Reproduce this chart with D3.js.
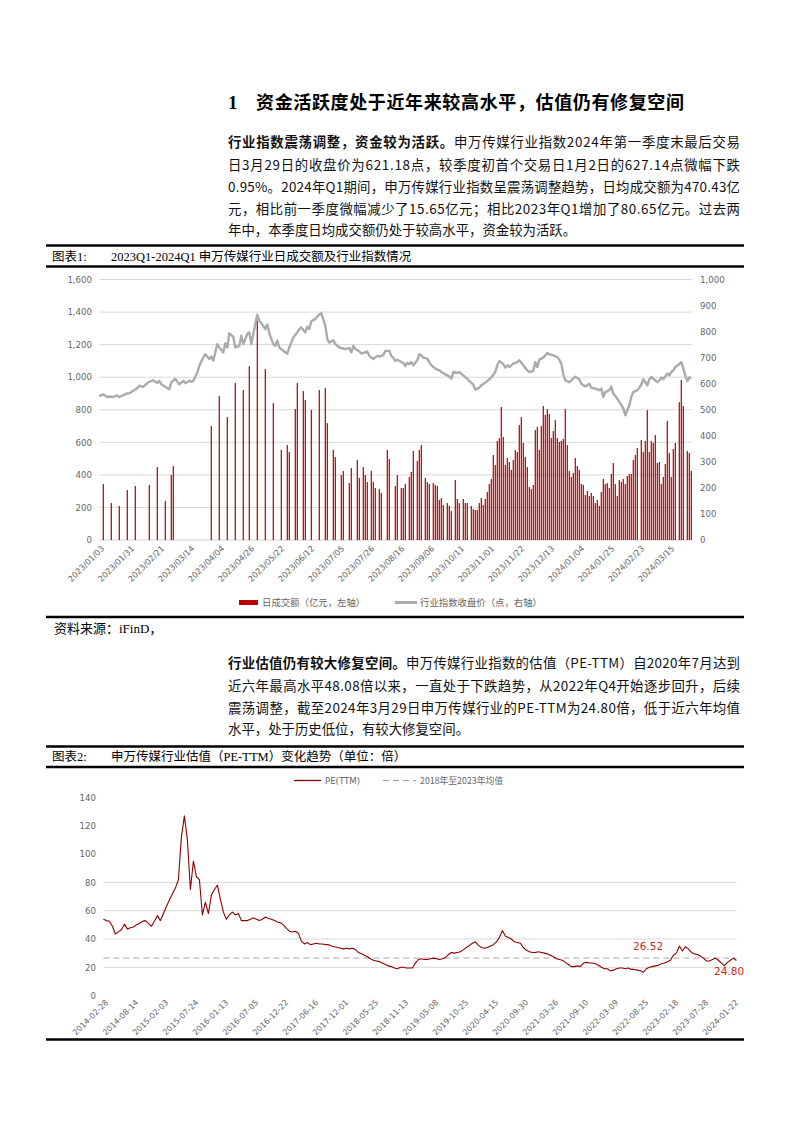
<!DOCTYPE html>
<html><head><meta charset="utf-8">
<script src="https://cdn.jsdelivr.net/npm/d3@7"></script>
<style>body{margin:0;background:#fff}svg{display:block}</style>
</head><body>
<svg id="page" width="794" height="1122"></svg>
<script>
// ---------------- DATA ----------------
// Chart 1: trading-day index (0 = 2023/01/03) and daily turnover (亿元, left axis)
const volDays = [2,6,10,14,18,25,29,33,36,37,56,60,64,68,72,75,79,83,87,91,94,95,98,99,102,103,106,110,113,114,117,118,121,122,125,126,129,130,132,133,134,136,137,138,140,141,144,145,148,149,151,152,153,155,156,157,159,160,161,163,164,165,167,168,169,170,171,172,174,175,176,178,179,180,182,183,184,186,187,188,189,190,191,192,193,194,195,196,197,198,199,200,201,202,203,204,205,206,207,208,209,210,211,212,213,214,215,216,217,218,219,220,221,222,223,224,225,226,227,228,229,230,231,232,233,234,235,236,237,238,239,240,241,242,243,244,245,246,247,248,249,250,251,252,253,254,255,256,257,258,259,260,261,262,263,264,265,266,267,268,269,271,272,273,274,275,276,277,278,279,280,281,282,283,284,285,286,287,288,290,291,292,294,295,296];
const volValues = [344,227,209,307,332,338,448,240,399,454,700,884,755,964,921,1068,1347,1050,841,553,583,540,804,964,915,860,798,921,933,718,553,510,399,424,350,442,491,381,448,399,356,424,356,319,313,289,553,497,332,399,319,319,344,387,418,547,485,553,583,381,356,344,350,338,332,246,258,215,227,209,178,368,252,227,252,227,227,209,190,184,184,227,258,215,252,295,344,375,522,461,608,626,817,633,461,504,479,430,491,553,540,706,755,596,510,448,325,313,338,675,694,553,700,823,768,804,774,626,669,737,626,602,608,620,804,583,424,387,411,504,454,430,344,338,276,301,270,289,270,227,246,209,295,375,344,350,319,405,473,344,270,368,356,375,344,393,405,405,491,522,565,614,540,608,798,540,608,596,645,473,479,344,387,467,731,534,387,559,596,847,983,823,547,534,424];
// Chart 1: industry index close (点, right axis)
const idxDays = [0,2,4,5,7,9,10,12,14,15,17,19,20,22,24,25,27,29,30,31,33,35,36,38,39,40,42,43,45,46,47,49,50,52,53,55,56,57,59,60,62,63,64,65,67,68,70,71,72,74,75,76,78,79,80,81,83,84,85,87,88,89,90,92,94,95,97,99,100,101,103,104,105,106,108,109,110,111,113,114,115,117,118,120,121,123,125,126,127,128,130,131,133,134,135,137,139,140,142,143,145,146,147,148,149,151,152,153,154,155,156,157,159,160,161,162,164,165,166,168,170,171,173,175,176,177,179,180,182,184,185,187,188,190,191,193,195,196,198,199,200,202,203,204,205,207,209,210,212,214,215,217,218,219,220,222,223,224,225,227,229,230,231,232,233,235,236,238,240,241,243,245,246,248,250,251,252,253,255,256,257,259,260,262,263,264,265,266,267,269,270,271,272,274,275,276,277,279,280,281,282,284,285,286,287,288,290,291,292,293,294,295,296];
const idxValues = [552,559,549,551,549,555,549,556,563,563,573,583,592,588,602,608,613,603,611,598,588,578,605,619,608,598,611,602,611,607,611,643,669,701,713,695,704,688,752,739,720,755,739,793,780,739,745,784,752,791,797,752,829,865,842,832,810,827,793,752,745,765,739,726,716,739,777,797,810,816,797,819,810,840,848,858,865,871,823,771,758,767,752,739,737,733,737,720,745,733,724,716,720,724,707,695,707,704,710,726,726,706,700,687,692,683,680,667,680,675,683,671,690,713,709,700,696,683,671,658,651,645,636,628,619,645,641,645,632,619,610,597,577,585,594,604,617,624,645,671,687,675,662,671,664,677,683,690,671,651,645,649,683,664,692,700,709,718,713,709,702,692,677,636,613,606,613,627,617,600,589,600,585,581,575,581,549,568,575,589,562,543,530,505,479,498,517,549,568,575,585,597,617,594,617,626,619,606,613,624,617,639,632,645,651,664,675,683,658,632,610,624,621];
const chart1Days = 297;
const chart1TickDays = [0,15,30,45,60,75,90,105,120,135,150,165,180,195,210,225,240,255,270,285];
const chart1TickLabels = ["2023/01/03","2023/01/31","2023/02/21","2023/03/14","2023/04/04","2023/04/26","2023/05/22","2023/06/12","2023/07/05","2023/07/26","2023/08/16","2023/09/06","2023/10/11","2023/11/01","2023/11/22","2023/12/13","2024/01/04","2024/01/25","2024/02/23","2024/03/15"];
const leftTicks = [0,200,400,600,800,1000,1200,1400,1600];
const rightTicks = [0,100,200,300,400,500,600,700,800,900,1000];
const chart1Legend = ["日成交额（亿元，左轴）","行业指数收盘价（点，右轴）"];

// Chart 2: PE(TTM), sampled at equal steps from 2014-02-28 to 2024-03-29
const peValues = [54,53,52.5,49,43.5,45,46.5,50.5,47,48,48.5,50,51,52.5,53,51,49,52.5,56.5,53,58,63,67.5,72,76,82,112,127,110,75,95,84,82,57,66,58,71,75,78,68,59,54,57,59,57,58,53,53,53,54,55,54,53,54,55.5,54.5,54,53,52,51.5,50,47.5,45.5,45,45.5,44,38.5,36.5,37.5,36,36.5,37,36.5,36.5,36,36,35,34.5,34,33.5,33,33.5,33,33.5,32.5,30.5,29.5,28.5,27.5,26,25,24.5,24,23,22,21,20.5,19.5,19,20,20,19.5,19.5,19.5,23,25.5,26,25.5,25.5,26,26.5,26,25.5,26,27,29,30.5,30,30.5,31,32.5,34,35.5,37,38,35.5,34,33.5,34,35,36,38,41,46,42,41,40,38,37.5,37,34,32,31,30.5,30.5,31,30.5,30,29.5,28.5,27.5,26,25.5,25,23.5,22,20.5,20.5,21,20.5,23,23.5,23,23,22.5,21.5,20,19,19,17.5,18,19,19.5,19.5,19,19.5,18.5,18.5,18,17.5,16.5,19,20,20.5,21,21.5,22.5,23,24,25,28.5,30,35,31.5,34.5,33,30.5,29.5,29,28,26.5,24.5,24.5,25.5,26.5,25,23,21,23.5,25,26.5,24.8];
const peTickSamples = [0,10,20,30,40,50,60,70,80,90,100,110,120,130,140,150,160,170,180,190,200,210];
const peTickLabels = ["2014-02-28","2014-08-14","2015-02-03","2015-07-24","2016-01-13","2016-07-05","2016-12-22","2017-06-16","2017-12-01","2018-05-25","2018-11-13","2019-05-08","2019-10-25","2020-04-15","2020-09-30","2021-03-26","2021-09-10","2022-03-09","2022-08-25","2023-02-18","2023-07-28","2024-01-22"];
const peYTicks = [0,20,40,60,80,100,120,140];
const peGridTicks = [20,40,60,80];
const peMean = 26.52;
const peLast = 24.80;
const chart2Legend = ["PE(TTM)","2018年至2023年均值"];

// ---------------- DRAW ----------------
const svg = d3.select("#page");
svg.append("rect").attr("width",794).attr("height",1122).attr("fill","#fff");
const CJK = "'Noto Sans CJK SC','Noto Sans',sans-serif";
const SERIF = "'Liberation Serif','Noto Sans CJK SC',serif";
const AXF = "'DejaVu Sans','Noto Sans CJK SC',sans-serif";

// Title
svg.append("text").attr("x",228).attr("y",109).attr("font-family",SERIF).attr("font-weight",700)
  .attr("font-size",19).text("1");
svg.append("text").attr("x",256).attr("y",109).attr("font-family",CJK).attr("font-weight",700)
  .attr("font-size",18).attr("textLength",428).attr("lengthAdjust","spacing")
  .text("资金活跃度处于近年来较高水平，估值仍有修复空间");

function para(lines, x, ys, width) {
  lines.forEach((segs, k) => {
    const t = svg.append("text").attr("x", x).attr("y", ys[k])
      .attr("font-family", CJK).attr("font-size", 13.4).attr("fill", "#111");
    segs.forEach(s => t.append("tspan").attr("font-weight", s.b ? 700 : 400).text(s.t));
    if (k < lines.length - 1) t.attr("textLength", width).attr("lengthAdjust", "spacing");
  });
}
para([
  [{t:"行业指数震荡调整，资金较为活跃。",b:1},{t:"申万传媒行业指数2024年第一季度末最后交易"}],
  [{t:"日3月29日的收盘价为621.18点，较季度初首个交易日1月2日的627.14点微幅下跌"}],
  [{t:"0.95%。2024年Q1期间，申万传媒行业指数呈震荡调整趋势，日均成交额为470.43亿"}],
  [{t:"元，相比前一季度微幅减少了15.65亿元；相比2023年Q1增加了80.65亿元。过去两"}],
  [{t:"年中，本季度日均成交额仍处于较高水平，资金较为活跃。"}]
], 228, [147,170,192,214,235], 512);

para([
  [{t:"行业估值仍有较大修复空间。",b:1},{t:"申万传媒行业指数的估值（PE-TTM）自2020年7月达到"}],
  [{t:"近六年最高水平48.08倍以来，一直处于下跌趋势，从2022年Q4开始逐步回升，后续"}],
  [{t:"震荡调整，截至2024年3月29日申万传媒行业的PE-TTM为24.80倍，低于近六年均值"}],
  [{t:"水平，处于历史低位，有较大修复空间。"}]
], 228, [668,691,713,734], 512);

function rule(y){ svg.append("line").attr("x1",46).attr("x2",744).attr("y1",y).attr("y2",y)
  .attr("stroke","#000").attr("stroke-width",2.4); }

// Chart 1 header
rule(245.5); rule(266.5);
svg.append("text").attr("x",52).attr("y",261).attr("font-family",SERIF).attr("font-size",12.5).text("图表1:");
svg.append("text").attr("x",111).attr("y",261).attr("font-family",SERIF).attr("font-size",12.5)
  .text("2023Q1-2024Q1 申万传媒行业日成交额及行业指数情况");

// Chart 1 scales
const x1 = d3.scaleLinear().domain([0, chart1Days - 1]).range([99.3, 691.3]);
const yL = d3.scaleLinear().domain([0, 1600]).range([540, 279.5]);
const yR = d3.scaleLinear().domain([0, 1000]).range([540, 279.5]);

const g1 = svg.append("g");
g1.selectAll("line.grid").data(leftTicks.filter(d=>d>0)).join("line")
  .attr("x1",99.3).attr("x2",692).attr("y1",d=>yL(d)).attr("y2",d=>yL(d))
  .attr("stroke","#d9d9d9").attr("stroke-width",1);
g1.append("line").attr("x1",99.3).attr("x2",692).attr("y1",yL(0)).attr("y2",yL(0))
  .attr("stroke","#d0d0d0").attr("stroke-width",1);

const axL = g1.append("g").attr("transform","translate(92,0)")
  .call(d3.axisLeft(yL).tickValues(leftTicks).tickFormat(d3.format(",")).tickSize(0).tickPadding(0));
axL.select(".domain").remove();
axL.selectAll("text").attr("font-family",AXF).attr("font-size",8.6).attr("fill","#666");

const axR = g1.append("g").attr("transform","translate(700,0)")
  .call(d3.axisRight(yR).tickValues(rightTicks).tickFormat(d3.format(",")).tickSize(0).tickPadding(0));
axR.select(".domain").remove();
axR.selectAll("text").attr("font-family",AXF).attr("font-size",8.6).attr("fill","#666");

// bars
const volData = volDays.map((d,i)=>({d, v: volValues[i]}));
g1.selectAll("rect.bar").data(volData).join("rect").attr("class","bar")
  .attr("x",d=>x1(d.d)-0.6).attr("width",1.2)
  .attr("y",d=>yL(d.v)).attr("height",d=>yL(0)-yL(d.v)).attr("fill","#b00000");

// index line
const idxData = idxDays.map((d,i)=>({d, v: idxValues[i]}));
g1.append("path").datum(idxData).attr("fill","none").attr("stroke","#ababab")
  .attr("stroke-width",2.4).attr("stroke-linejoin","round")
  .attr("d", d3.line().x(d=>x1(d.d)).y(d=>yR(d.v)));

// x labels
const xl1 = g1.append("g").attr("transform","translate(0,547)")
  .call(d3.axisBottom(x1).tickValues(chart1TickDays).tickFormat((d,i)=>chart1TickLabels[i]).tickSize(0).tickPadding(0));
xl1.select(".domain").remove();
xl1.selectAll("text").attr("font-family",AXF).attr("font-size",8.2).attr("fill","#666")
  .attr("text-anchor","end").attr("dy","0.35em")
  .attr("transform","translate(3,0) rotate(-45)");

// legend 1
g1.append("rect").attr("x",239).attr("y",600).attr("width",19).attr("height",5).attr("fill","#c00000");
g1.append("text").attr("x",262).attr("y",606).attr("font-family",CJK).attr("font-size",9.4)
  .attr("fill","#666").text(chart1Legend[0]);
g1.append("line").attr("x1",395).attr("x2",417).attr("y1",602.5).attr("y2",602.5)
  .attr("stroke","#ababab").attr("stroke-width",3);
g1.append("text").attr("x",420).attr("y",606).attr("font-family",CJK).attr("font-size",9.4)
  .attr("fill","#666").text(chart1Legend[1]);

rule(617);
svg.append("text").attr("x",54).attr("y",633).attr("font-family",SERIF).attr("font-size",13).text("资料来源：iFinD，");

// Chart 2 header
rule(746.5); rule(767);
svg.append("text").attr("x",52).attr("y",761).attr("font-family",SERIF).attr("font-size",12.5).text("图表2:");
svg.append("text").attr("x",111).attr("y",761).attr("font-family",SERIF).attr("font-size",12.5)
  .text("申万传媒行业估值（PE-TTM）变化趋势（单位：倍）");

// Chart 2 scales
const x2 = d3.scaleLinear().domain([0, peValues.length - 1]).range([103.4, 736.4]);
const y2 = d3.scaleLinear().domain([0, 140]).range([995.6, 797.5]);
const g2 = svg.append("g");

// legend 2
g2.append("line").attr("x1",294).attr("x2",321).attr("y1",780.5).attr("y2",780.5)
  .attr("stroke","#7f0000").attr("stroke-width",1.3);
g2.append("text").attr("x",325).attr("y",784).attr("font-family",AXF).attr("font-size",8.6)
  .attr("fill","#666").text(chart2Legend[0]);
g2.append("line").attr("x1",383).attr("x2",416).attr("y1",780.5).attr("y2",780.5)
  .attr("stroke","#a0a0a0").attr("stroke-width",1).attr("stroke-dasharray","6,4");
g2.append("text").attr("x",420).attr("y",784).attr("font-family",CJK).attr("font-size",8.8)
  .attr("fill","#666").text(chart2Legend[1]);

g2.selectAll("line.grid").data(peGridTicks).join("line")
  .attr("x1",103.4).attr("x2",736.4).attr("y1",d=>y2(d)).attr("y2",d=>y2(d))
  .attr("stroke","#d9d9d9").attr("stroke-width",1);

const ay2 = g2.append("g").attr("transform","translate(96,0)")
  .call(d3.axisLeft(y2).tickValues(peYTicks).tickSize(0).tickPadding(0));
ay2.select(".domain").remove();
ay2.selectAll("text").attr("font-family",AXF).attr("font-size",8.6).attr("fill","#666");

// mean line
g2.append("line").attr("x1",103.4).attr("x2",736.4).attr("y1",y2(peMean)).attr("y2",y2(peMean))
  .attr("stroke","#a6a6a6").attr("stroke-width",1).attr("stroke-dasharray","6,4");

// PE line
g2.append("path").datum(peValues).attr("fill","none").attr("stroke","#8b0000")
  .attr("stroke-width",1.1).attr("stroke-linejoin","round")
  .attr("d", d3.line().x((d,i)=>x2(i)).y(d=>y2(d)));

// annotations
g2.append("text").attr("x",633).attr("y",y2(peMean)-8).attr("font-family",AXF).attr("font-size",10.5)
  .attr("fill","#c62828").text(d3.format(".2f")(peMean));
g2.append("text").attr("x",714).attr("y",975).attr("font-family",AXF).attr("font-size",10.5)
  .attr("fill","#c62828").text(d3.format(".2f")(peLast));

// x labels chart 2
const xl2 = g2.append("g").attr("transform","translate(0,1001)")
  .call(d3.axisBottom(x2).tickValues(peTickSamples).tickFormat((d,i)=>peTickLabels[i]).tickSize(0).tickPadding(0));
xl2.select(".domain").remove();
xl2.selectAll("text").attr("font-family",AXF).attr("font-size",8).attr("fill","#666")
  .attr("text-anchor","end").attr("dy","0.35em")
  .attr("transform","translate(3,0) rotate(-45)");

rule(1039.5);
</script>
</body></html>
